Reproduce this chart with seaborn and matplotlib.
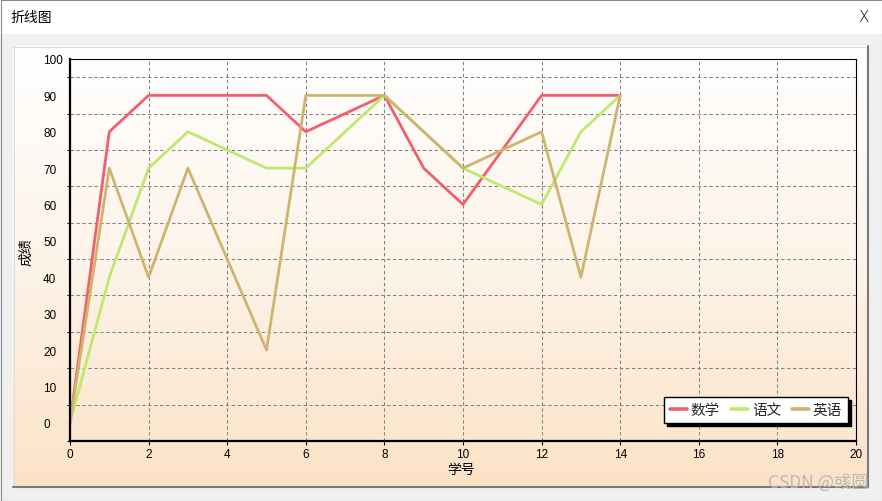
import numpy as np
import pandas as pd
import matplotlib.pyplot as plt
import seaborn as sns
from matplotlib.patches import Rectangle
from matplotlib.colors import LinearSegmentedColormap

# 学号 0..14, 三门课的成绩
student_no = list(range(15))
math_scores = [0, 80, 90, 90, 90, 90, 80, 85, 90, 70, 60, 75, 90, 90, 90]
chinese_scores = [0, 40, 70, 80, 75, 70, 70, 80, 90, 80, 70, 65, 60, 80, 90]
english_scores = [0, 70, 40, 70, 45, 20, 90, 90, 90, 80, 70, 75, 80, 40, 90]
subjects = ['数学', '语文', '英语']
line_colors = ['#f25f6b', '#bde96f', '#cfb46f']
x_ticks = list(range(0, 21, 2))
y_label_ticks = list(range(0, 101, 10))
y_grid_ticks = list(range(-5, 100, 10))

df = pd.DataFrame({
    '学号': student_no * 3,
    '成绩': math_scores + chinese_scores + english_scores,
    '科目': [s for s in subjects for _ in student_no],
})

sns.set_style('ticks')
plt.rcParams['font.family'] = ['Liberation Sans', 'Noto Sans CJK SC', 'DejaVu Sans']
plt.rcParams['lines.scale_dashes'] = False

W, H = 882, 502
fig = plt.figure(figsize=(W / 100, H / 100), dpi=100)

# window chrome + panel with gradient
bg = fig.add_axes([0, 0, 1, 1])
bg.add_patch(Rectangle((0, 0), W, H, facecolor='#f0f0f0', edgecolor='none'))
bg.add_patch(Rectangle((0, 0), W, 35, facecolor='white', edgecolor='none'))
peach = LinearSegmentedColormap.from_list('peach', ['#ffffff', '#fdf3e8', '#fce3c7'])
bg.imshow(np.linspace(0, 1, 256).reshape(-1, 1), cmap=peach, extent=(13, 867, 487, 47),
          aspect='auto', zorder=1)
bg.plot([13, 867], [47.5, 47.5], color='#dcdcdc', lw=0.8, zorder=2)
bg.plot([13.5, 13.5], [47, 487], color='#dcdcdc', lw=0.8, zorder=2)
bg.plot([13, 868], [487.5, 487.5], color='#7a7a7a', lw=1.5, zorder=2)
bg.plot([868, 868], [47, 488], color='#7a7a7a', lw=1.5, zorder=2)
bg.add_patch(Rectangle((0.5, 0.5), W - 1, H - 1, facecolor='none', edgecolor='#8c8c8c', lw=0.8, zorder=3))
bg.set_xlim(0, W)
bg.set_ylim(H, 0)
bg.axis('off')

fig.text(10 / W, 1 - 18 / H, '折线图', ha='left', va='center', fontsize=10, color='black')
fig.text(863 / W, 1 - 17 / H, 'X', ha='center', va='center', fontsize=11, color='black',
         family=['DejaVu Sans'], fontweight='light')

# the chart itself
ax = fig.add_axes([70 / W, 1 - 442 / H, (856 - 70) / W, (442 - 60) / H])
ax.patch.set_alpha(0)
sns.lineplot(data=df, x='学号', y='成绩', hue='科目', hue_order=subjects,
             palette=dict(zip(subjects, line_colors)), linewidth=2.0, ax=ax)

ax.set_xlim(0, 20)
ax.set_ylim(-5, 100)
ax.set_xticks(x_ticks)
ax.set_yticks(y_label_ticks)
ax.set_yticks(y_grid_ticks, minor=True)
ax.set_xticks([], minor=True)

grid_style = dict(color='#808080', linestyle=(0, (2.4, 1.9)), linewidth=0.75)
ax.xaxis.grid(True, which='major', **grid_style)
ax.yaxis.grid(True, which='minor', **grid_style)
ax.yaxis.grid(False, which='major')

ax.tick_params(axis='y', which='major', length=0, pad=19.4, labelsize=8.5, labelcolor='black')
ax.tick_params(axis='y', which='minor', length=2.2, width=0.75, color='black', direction='out')
ax.tick_params(axis='x', which='major', length=2.9, width=0.75, color='black', direction='out',
               pad=2, labelsize=8.5, labelcolor='black')
plt.setp(ax.get_yticklabels(), ha='left')

for side in ['left', 'bottom']:
    ax.spines[side].set_linewidth(1.6)
    ax.spines[side].set_color('black')
for side in ['top', 'right']:
    ax.spines[side].set_linewidth(0.8)
    ax.spines[side].set_color('black')

ax.set_xlabel('学号', fontsize=10, color='black')
ax.xaxis.set_label_coords(0.497, -0.055)
ax.set_ylabel('成绩', fontsize=10, color='black')
ax.yaxis.set_label_coords(-0.047, 0.497)

handles, labels = ax.get_legend_handles_labels()
leg = ax.legend(handles, labels, loc='lower right', bbox_to_anchor=(1 - 8 / 786, 18 / 382),
                borderaxespad=0, ncol=3, frameon=True, fancybox=False, framealpha=1,
                edgecolor='black', facecolor='white',
                shadow={'facecolor': 'black', 'edgecolor': 'black', 'alpha': 1},
                fontsize=10.5, handlelength=1.15, handletextpad=0.28, columnspacing=0.75,
                borderpad=0.4)
leg.get_frame().set_linewidth(1.0)
for line in leg.get_lines():
    line.set_linewidth(2.6)

fig.text(869 / W, 1 - 483 / H, 'CSDN @彧圆', ha='right', va='center', fontsize=12.5,
         color='#b9b9b9', family=['Noto Sans CJK SC', 'DejaVu Sans'])

fig.savefig('out.png', dpi=100)
